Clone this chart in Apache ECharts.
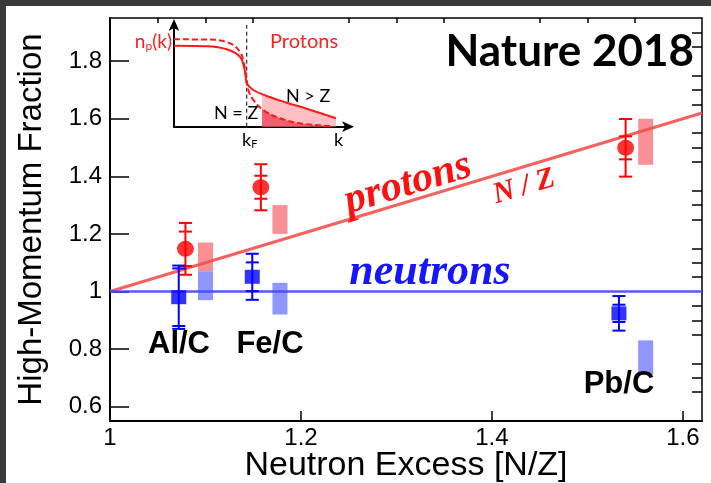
<!DOCTYPE html>
<html>
<head>
<meta charset="utf-8">
<script src="https://cdn.jsdelivr.net/npm/echarts@6/dist/echarts.min.js"></script>
<style>
  html, body { margin: 0; padding: 0; background: #fff; width: 100%; height: 100%; overflow: hidden; }
  #chart { position: absolute; left: 0; top: 0; width: 100%; height: 100%; }
  .edge { position: absolute; background: #3a3a3a; }
</style>
</head>
<body>
<div id="chart"></div>
<div class="edge" style="left:0;top:0;width:6px;height:100%"></div>
<div class="edge" style="left:0;top:0;width:100%;height:6px"></div>
<script>
// ---- measured ratios (target / carbon) ----
const targets = ['Al/C', 'Fe/C', 'Pb/C'];

// protons: point, inner (stat) and outer (total) error, systematic band
const protonX = [1.079, 1.158, 1.540];
const protonY = [1.148, 1.362, 1.499];
const protonStat = [0.06, 0.04, 0.04];
const protonTot = [0.09, 0.08, 0.10];
const protonSysX = [1.100, 1.178, 1.561];
const protonSysLo = [1.07, 1.20, 1.44];
const protonSysHi = [1.17, 1.30, 1.60];

// neutrons
const neutronX = [1.072, 1.149, 1.533];
const neutronY = [0.980, 1.051, 0.924];
const neutronStat = [0.10, 0.05, 0.03];
const neutronTot = [0.11, 0.08, 0.06];
const neutronSysX = [1.100, 1.178, 1.561];
const neutronSysLo = [0.97, 0.92, 0.71];
const neutronSysHi = [1.07, 1.03, 0.83];

// reference lines: N/Z scaling and unity
const nzLine = [[1.0, 1.0], [1.62, 1.62]];
const unityLine = [[1.0, 1.0], [1.62, 1.0]];

// axis ticks
const xMajor = [1.0, 1.2, 1.4, 1.6];
const xMinor = [1.05, 1.1, 1.15, 1.25, 1.3, 1.35, 1.45, 1.5, 1.55];
const yMajor = [0.6, 0.8, 1.0, 1.2, 1.4, 1.6, 1.8];
const yMinor = [0.55, 0.65, 0.7, 0.75, 0.85, 0.9, 0.95, 1.05, 1.1, 1.15, 1.25, 1.3, 1.35,
                1.45, 1.5, 1.55, 1.65, 1.7, 1.75, 1.85, 1.9];

// ---- inset: schematic proton momentum distribution n_p(k) ----
const npNZ = [[0, 0.859], [0.207, 0.857], [0.322, 0.820], [0.379, 0.737], [0.402, 0.623],
              [0.418, 0.459], [0.427, 0.361], [0.456, 0.263], [0.513, 0.164], [0.609, 0.083],
              [0.724, 0.033], [0.897, 0.007]];
const npNgtZ = [[0, 0.796], [0.188, 0.791], [0.303, 0.761], [0.379, 0.688], [0.402, 0.590],
                [0.412, 0.492], [0.418, 0.427], [0.456, 0.361], [0.533, 0.302], [0.648, 0.236],
                [0.763, 0.177], [0.931, 0.083]];
const tailNgtZ = [[0.506, 0.316], [0.533, 0.302], [0.648, 0.236], [0.763, 0.177], [0.931, 0.083]];
const tailNZ = [[0.506, 0.176], [0.609, 0.083], [0.724, 0.033], [0.897, 0.007]];
const kFermi = [[0.418, 0], [0.418, 1]];

const fmt = v => String(Math.round(v * 10) / 10);
const pointRows = (xs, ys, s, t) => xs.map((x, i) => [x, ys[i], s[i], t[i]]);
const bandRows = (xs, lo, hi) => xs.map((x, i) => [x, lo[i], hi[i]]);

function errorBars(color, capW) {
  return function (params, api) {
    const x = api.value(0), y = api.value(1), s = api.value(2), t = api.value(3);
    const pT = api.coord([x, y + t]), pB = api.coord([x, y - t]);
    const iT = api.coord([x, y + s]), iB = api.coord([x, y - s]);
    const st = { stroke: color, lineWidth: 2 };
    const h = capW / 2;
    const seg = (x1, y1, x2, y2) => ({ type: 'line', shape: { x1, y1, x2, y2 }, style: st });
    return {
      type: 'group',
      children: [
        seg(pT[0], pT[1], pB[0], pB[1]),
        seg(pT[0] - h, pT[1], pT[0] + h, pT[1]),
        seg(pB[0] - h, pB[1], pB[0] + h, pB[1]),
        seg(iT[0] - h, iT[1], iT[0] + h, iT[1]),
        seg(iB[0] - h, iB[1], iB[0] + h, iB[1])
      ]
    };
  };
}

function bands(color) {
  return function (params, api) {
    const x = api.value(0);
    const top = api.coord([x, api.value(2)]);
    const bot = api.coord([x, api.value(1)]);
    const w = 15;
    return {
      type: 'rect',
      shape: { x: top[0] - w / 2, y: top[1], width: w, height: bot[1] - top[1] },
      style: { fill: color }
    };
  };
}

const chart = echarts.init(document.getElementById('chart'), null, { renderer: 'canvas' });

const blackLine = { color: '#000', width: 2 };
const sans = 'Liberation Sans, Arial, sans-serif';
const serif = 'Liberation Serif, Times New Roman, serif';
const calib = 'Lato, Open Sans, sans-serif';

chart.setOption({
  animation: false,
  backgroundColor: '#fff',
  grid: [
    { left: 110, right: 9, top: 18, bottom: 62, outerBoundsMode: 'none', containLabel: false,
      show: true, borderColor: '#000', borderWidth: 1.5 },
    { left: 174, top: 25, width: 174, height: 101.7, outerBoundsMode: 'none', containLabel: false }
  ],
  xAxis: [
    {
      gridIndex: 0, type: 'value', min: 1.0, max: 1.62,
      axisLine: { show: true, lineStyle: blackLine },
      axisTick: { show: true, inside: true, length: 10, customValues: xMajor, lineStyle: { color: '#000', width: 1.5 } },
      axisLabel: { customValues: xMajor, formatter: fmt, color: '#000', fontSize: 24, fontFamily: sans, margin: 5 },
      splitLine: { show: false },
      name: 'Neutron Excess [N/Z]', nameLocation: 'middle', nameGap: 28, nameMoveOverlap: false,
      nameTextStyle: { color: '#000', fontSize: 34, fontFamily: sans }
    },
    {
      gridIndex: 0, type: 'value', min: 1.0, max: 1.62,
      axisLine: { show: false },
      axisTick: { show: true, inside: true, length: 5, customValues: xMinor, lineStyle: { color: '#000', width: 1.5 } },
      axisLabel: { show: false }, splitLine: { show: false }
    },
    {
      gridIndex: 1, type: 'value', min: 0, max: 1,
      axisLine: { show: true, symbol: ['none', 'arrow'], symbolSize: [8, 12], symbolOffset: [0, 6], lineStyle: blackLine },
      axisTick: { show: false }, axisLabel: { show: false }, splitLine: { show: false }
    }
  ],
  yAxis: [
    {
      gridIndex: 0, type: 'value', min: 0.55, max: 1.95,
      axisLine: { show: true, lineStyle: blackLine },
      axisTick: { show: true, inside: true, length: 19, customValues: yMajor, lineStyle: { color: '#000', width: 1.5 } },
      axisLabel: { customValues: yMajor, formatter: fmt, color: '#000', fontSize: 24, fontFamily: sans, margin: 8 },
      splitLine: { show: false },
      name: 'High-Momentum Fraction', nameLocation: 'middle', nameGap: 62, nameMoveOverlap: false,
      nameTextStyle: { color: '#000', fontSize: 33, fontFamily: sans }
    },
    {
      gridIndex: 0, type: 'value', min: 0.55, max: 1.95,
      axisLine: { show: false },
      axisTick: { show: true, inside: true, length: 10, customValues: yMinor, lineStyle: { color: '#000', width: 1.5 } },
      axisLabel: { show: false }, splitLine: { show: false }
    },
    {
      gridIndex: 1, type: 'value', min: 0, max: 1,
      axisLine: { show: true, symbol: ['none', 'arrow'], symbolSize: [8, 12], symbolOffset: [0, 6], lineStyle: blackLine },
      axisTick: { show: false }, axisLabel: { show: false }, splitLine: { show: false }
    }
  ],
  series: [
    // systematic bands
    { type: 'custom', xAxisIndex: 0, yAxisIndex: 0, renderItem: bands('rgba(245,70,80,0.6)'),
      data: bandRows(protonSysX, protonSysLo, protonSysHi), z: 2 },
    { type: 'custom', xAxisIndex: 0, yAxisIndex: 0, renderItem: bands('rgba(70,80,255,0.6)'),
      data: bandRows(neutronSysX, neutronSysLo, neutronSysHi), z: 2 },
    // reference lines
    { type: 'line', xAxisIndex: 0, yAxisIndex: 0, data: nzLine, showSymbol: false, silent: true,
      lineStyle: { color: 'rgba(242,80,80,0.9)', width: 3 }, z: 3 },
    { type: 'line', xAxisIndex: 0, yAxisIndex: 0, data: unityLine, showSymbol: false, silent: true,
      lineStyle: { color: 'rgba(70,70,255,0.9)', width: 2.5 }, z: 3 },
    // error bars
    { type: 'custom', xAxisIndex: 0, yAxisIndex: 0, renderItem: errorBars('#ff0000', 13),
      data: pointRows(protonX, protonY, protonStat, protonTot), z: 4 },
    { type: 'custom', xAxisIndex: 0, yAxisIndex: 0, renderItem: errorBars('#0000ff', 13),
      data: pointRows(neutronX, neutronY, neutronStat, neutronTot), z: 4 },
    // markers
    { type: 'scatter', xAxisIndex: 0, yAxisIndex: 0, symbol: 'circle', symbolSize: [17, 16],
      itemStyle: { color: '#ff0000' }, data: protonX.map((x, i) => [x, protonY[i]]), z: 5 },
    { type: 'scatter', xAxisIndex: 0, yAxisIndex: 0, symbol: 'rect', symbolSize: [15, 14],
      itemStyle: { color: '#0000ff' }, data: neutronX.map((x, i) => [x, neutronY[i]]), z: 5 },

    // inset curves
    { type: 'line', xAxisIndex: 2, yAxisIndex: 2, data: tailNgtZ, showSymbol: false, smooth: true,
      lineStyle: { width: 0 }, areaStyle: { color: 'rgba(255,170,175,0.75)', opacity: 1 }, z: 2 },
    { type: 'line', xAxisIndex: 2, yAxisIndex: 2, data: tailNZ, showSymbol: false, smooth: true,
      lineStyle: { width: 0 }, areaStyle: { color: 'rgba(240,70,90,0.8)', opacity: 1 }, z: 2 },
    { type: 'line', xAxisIndex: 2, yAxisIndex: 2, data: kFermi, showSymbol: false,
      lineStyle: { color: '#000', width: 1, type: [4, 3] }, z: 3 },
    { type: 'line', xAxisIndex: 2, yAxisIndex: 2, data: npNgtZ, showSymbol: false, smooth: 0.4,
      lineStyle: { color: '#ff1a1a', width: 2 }, z: 4 },
    { type: 'line', xAxisIndex: 2, yAxisIndex: 2, data: npNZ, showSymbol: false, smooth: 0.4,
      lineStyle: { color: '#ff1a1a', width: 2, type: [6, 3] }, z: 4 }
  ],
  graphic: [
    { type: 'text', x: 694, y: 52, z: 10,
      style: { text: 'Nature 2018', font: 'bold 44px ' + calib, fill: '#000', align: 'right', verticalAlign: 'middle' } },
    // inset labels
    { type: 'text', x: 172, y: 42, z: 10,
      style: { text: '{a|n}{b|p}{a|(k)}', align: 'right', verticalAlign: 'middle',
        rich: { a: { fontSize: 19, fontFamily: calib, fill: '#ff2020' },
                b: { fontSize: 12, fontFamily: calib, fill: '#ff2020', padding: [9, 0, 0, 0] } } } },
    { type: 'text', x: 270, y: 42, z: 10,
      style: { text: 'Protons', font: '20px ' + calib, fill: '#ff2020', verticalAlign: 'middle' } },
    { type: 'text', x: 286, y: 96, z: 10,
      style: { text: 'N > Z', font: '18px ' + calib, fill: '#000', verticalAlign: 'middle' } },
    { type: 'text', x: 214, y: 113, z: 10,
      style: { text: 'N = Z', font: '18px ' + calib, fill: '#000', verticalAlign: 'middle' } },
    { type: 'text', x: 242, y: 140, z: 10,
      style: { text: '{a|k}{b|F}', verticalAlign: 'middle',
        rich: { a: { fontSize: 18, fontFamily: calib, fill: '#000' },
                b: { fontSize: 11, fontFamily: calib, fill: '#000', padding: [8, 0, 0, 0] } } } },
    { type: 'text', x: 334, y: 140, z: 10,
      style: { text: 'k', font: '18px ' + calib, fill: '#000', verticalAlign: 'middle' } },
    // annotations on the main plot
    { type: 'text', x: 408, y: 184, rotation: 0.292, z: 10,
      style: { text: 'protons', font: 'italic bold 42px ' + serif, fill: '#ff1010', align: 'center', verticalAlign: 'middle' } },
    { type: 'text', x: 524, y: 187, rotation: 0.292, z: 10,
      style: { text: 'N / Z', font: 'italic bold 30px ' + serif, fill: '#ff1010', align: 'center', verticalAlign: 'middle' } },
    { type: 'text', x: 430, y: 273, z: 10,
      style: { text: 'neutrons', font: 'italic bold 44px ' + serif, fill: '#1515ff', align: 'center', verticalAlign: 'middle' } },
    { type: 'text', x: 179, y: 344, z: 10,
      style: { text: targets[0], font: 'bold 31px ' + sans, fill: '#000', align: 'center', verticalAlign: 'middle' } },
    { type: 'text', x: 270, y: 344, z: 10,
      style: { text: targets[1], font: 'bold 31px ' + sans, fill: '#000', align: 'center', verticalAlign: 'middle' } },
    { type: 'text', x: 619, y: 384, z: 10,
      style: { text: targets[2], font: 'bold 31px ' + sans, fill: '#000', align: 'center', verticalAlign: 'middle' } }
  ]
});
</script>
</body>
</html>
